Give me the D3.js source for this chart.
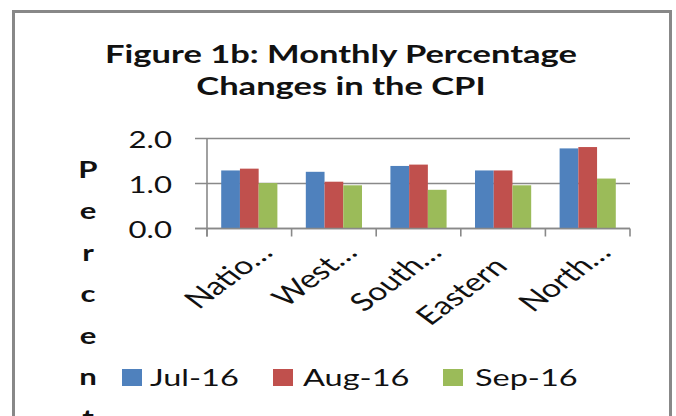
<!DOCTYPE html>
<html>
<head>
<meta charset="utf-8">
<script src="https://cdn.jsdelivr.net/npm/d3@7"></script>
<style>
  html, body { margin: 0; padding: 0; background: #ffffff; }
  svg { display: block; }
  text { font-family: Lato, "Open Sans", sans-serif; fill: #111; }
</style>
</head>
<body>
<svg id="chart" width="676" height="416"></svg>
<script>
// ---- data ----
const categories = ["Natio…", "West…", "South…", "Eastern", "North…"];
const seriesNames = ["Jul-16", "Aug-16", "Sep-16"];
const jul16 = [1.29, 1.26, 1.39, 1.29, 1.78];
const aug16 = [1.33, 1.04, 1.42, 1.29, 1.81];
const sep16 = [1.01, 0.96, 0.86, 0.96, 1.11];
const yTickValues = [0, 1, 2];
const yTickLabels = ["0.0", "1.0", "2.0"];
const titleLines = ["Figure 1b: Monthly Percentage", "Changes in the CPI"];
const yAxisTitle = "Percent";

const seriesValues = [jul16, aug16, sep16];
const colors = ["#4F81BD", "#C0504D", "#9BBB59"];

const svg = d3.select("#chart");
const W = 676, H = 416;
svg.append("rect").attr("width", W).attr("height", H).attr("fill", "#fff");

// outer frame
svg.append("rect")
  .attr("x", 13.5).attr("y", 11.5).attr("width", 657).attr("height", 520)
  .attr("fill", "none").attr("stroke", "#888888").attr("stroke-width", 3);

// title (measured to derive the horizontal stretch of the text)
const titleG = svg.append("g");
const t1 = titleG.append("text").text(titleLines[0])
  .attr("font-weight", 700).attr("font-size", 25.5).attr("text-anchor", "middle");
const sx = 472 / t1.node().getComputedTextLength();
function tf(x, y, rot, s) {
  return `translate(${x},${y}) scale(${s || sx},1)` + (rot ? ` rotate(${rot})` : "");
}
t1.attr("transform", tf(341, 63));
titleG.append("text").text(titleLines[1])
  .attr("font-weight", 700).attr("font-size", 25.5).attr("text-anchor", "middle")
  .attr("transform", tf(341, 95));

// scales
const plotLeft = 207, plotRight = 630;
const y = d3.scaleLinear().domain([0, 2]).range([228.5, 138.5]);
const x0 = d3.scaleBand().domain(categories).range([plotLeft, plotRight])
  .paddingInner(0.336).paddingOuter(0.168);
const x1 = d3.scaleBand().domain(seriesNames).range([0, x0.bandwidth()]).padding(0);
const step = x0.step();

const gridColor = "#898989";

// gridlines + y tick marks
svg.append("g").selectAll("line").data(yTickValues).join("line")
  .attr("x1", 195).attr("x2", plotRight)
  .attr("y1", d => y(d)).attr("y2", d => y(d))
  .attr("stroke", gridColor).attr("stroke-width", 1.6);

// y tick labels
svg.append("g").selectAll("text").data(yTickValues).join("text")
  .text((d, i) => yTickLabels[i])
  .attr("font-size", 23).attr("text-anchor", "end")
  .attr("dominant-baseline", "central")
  .attr("transform", d => tf(172, y(d) + 0.5));

// bars
const rows = categories.map((c, i) => ({ c, vals: seriesNames.map((s, j) => ({ s, j, v: seriesValues[j][i] })) }));
const gBars = svg.append("g");
gBars.selectAll("g").data(rows).join("g")
  .attr("transform", d => `translate(${x0(d.c)},0)`)
  .selectAll("rect").data(d => d.vals).join("rect")
  .attr("x", d => x1(d.s))
  .attr("width", x1.bandwidth())
  .attr("y", d => y(d.v))
  .attr("height", d => y(0) - y(d.v))
  .attr("fill", d => colors[d.j]);

// axis lines
svg.append("line").attr("x1", plotLeft).attr("x2", plotLeft)
  .attr("y1", y(2)).attr("y2", 236.5)
  .attr("stroke", gridColor).attr("stroke-width", 1.6);
svg.append("line").attr("x1", 195).attr("x2", plotRight)
  .attr("y1", y(0)).attr("y2", y(0))
  .attr("stroke", gridColor).attr("stroke-width", 1.6);
// category boundary ticks
const boundaries = d3.range(categories.length + 1).map(i => plotLeft + i * step);
svg.append("g").selectAll("line").data(boundaries).join("line")
  .attr("x1", d => d).attr("x2", d => d)
  .attr("y1", y(0)).attr("y2", 236.5)
  .attr("stroke", gridColor).attr("stroke-width", 1.6);

// category labels (rotated)
const labelStretch = 1.35;
svg.append("g").selectAll("text").data(categories).join("text")
  .text(d => d)
  .attr("font-size", 25).attr("text-anchor", "end")
  .attr("transform", d => {
    const cx = x0(d) + x0.bandwidth() / 2;
    const trunc = d.endsWith("…");
    return trunc ? tf(cx + 25, 254, -45, labelStretch) : tf(cx + 6, 268, -45, labelStretch);
  });

// y axis title: stacked letters
svg.append("g").selectAll("text").data(yAxisTitle.split("")).join("text")
  .text(d => d)
  .attr("font-weight", 700).attr("font-size", 23).attr("text-anchor", "middle")
  .attr("transform", (d, i) => tf(88, 178 + i * 41.4));

// legend
const legendSquareX = [122, 273, 443];
const legendTextX = [150, 303, 475];
const lg = svg.append("g");
lg.selectAll("rect").data(seriesNames).join("rect")
  .attr("x", (d, i) => legendSquareX[i]).attr("y", 369)
  .attr("width", 20).attr("height", 17)
  .attr("fill", (d, i) => colors[i]);
lg.selectAll("text").data(seriesNames).join("text")
  .text(d => d)
  .attr("font-size", 24)
  .attr("transform", (d, i) => tf(legendTextX[i], 385.5));
</script>
</body>
</html>
